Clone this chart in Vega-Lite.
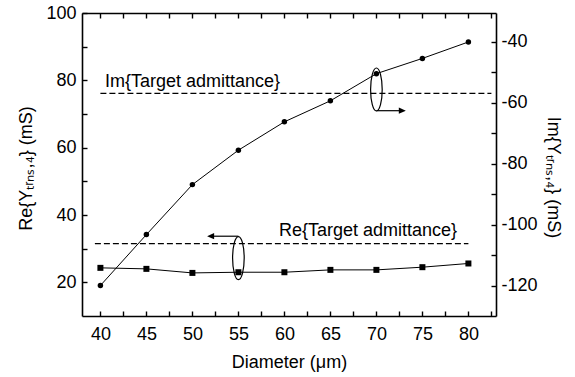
{
  "$schema": "https://vega.github.io/schema/vega-lite/v6.json",
  "width": 414,
  "height": 303,
  "autosize": {"type": "none"},
  "padding": {"left": 82, "top": 13, "right": 79, "bottom": 61},
  "background": "white",
  "config": {
    "view": {"stroke": null},
    "font": "Liberation Sans",
    "axis": {
      "grid": false,
      "domainColor": "black",
      "domainWidth": 1.6,
      "tickColor": "black",
      "tickWidth": 1.4,
      "tickSize": -5,
      "labelColor": "black",
      "labelFont": "Liberation Sans",
      "labelFontSize": 18,
      "labelOverlap": false,
      "labelFlush": false,
      "titleColor": "black",
      "titleFont": "Liberation Sans",
      "titleFontSize": 18,
      "titleFontWeight": "normal"
    }
  },
  "datasets": {
    "series": [
      {"d": 40, "re": 24.3, "im": -120.0},
      {"d": 45, "re": 24.0, "im": -103.3},
      {"d": 50, "re": 22.8, "im": -86.9},
      {"d": 55, "re": 23.0, "im": -75.6},
      {"d": 60, "re": 23.0, "im": -66.3},
      {"d": 65, "re": 23.7, "im": -59.4},
      {"d": 70, "re": 23.7, "im": -50.5},
      {"d": 75, "re": 24.5, "im": -45.5},
      {"d": 80, "re": 25.6, "im": -40.1}
    ]
  },
  "layer": [
    {
      "data": {"name": "series"},
      "mark": {"type": "line", "color": "black", "strokeWidth": 1},
      "encoding": {
        "x": {
          "field": "d",
          "type": "quantitative",
          "scale": {"domain": [38, 83], "nice": false, "zero": false},
          "axis": {
            "orient": "bottom",
            "values": [40, 42.5, 45, 47.5, 50, 52.5, 55, 57.5, 60, 62.5, 65, 67.5, 70, 72.5, 75, 77.5, 80, 82.5],
            "encode": {"ticks": {"update": {"y2": [{"test": "datum.value % 5 === 0", "value": -5}, {"value": -3}]}}},
            "labelExpr": "datum.value % 5 === 0 ? datum.label : ''",
            "labelBaseline": "alphabetic",
            "labelPadding": 28,
            "title": "Diameter (μm)",
            "titleBaseline": "alphabetic",
            "titleAlign": "center",
            "titleX": 207,
            "titleY": 51
          }
        },
        "y": {
          "field": "re",
          "type": "quantitative",
          "scale": {"domain": [10, 100], "nice": false, "zero": false},
          "axis": {
            "orient": "left",
            "values": [20, 30, 40, 50, 60, 70, 80, 90, 100],
            "encode": {"ticks": {"update": {"x2": [{"test": "datum.value % 20 === 0", "value": 5}, {"value": 3}]}}},
            "labelExpr": "datum.value % 20 === 0 ? datum.label : ''",
            "labelPadding": 11,
            "title": "Re{Yₜᵣₙₛ,₄} (mS)",
            "titleAngle": -90,
            "titleAlign": "center",
            "titleBaseline": "alphabetic",
            "titleX": -51,
            "titleY": 155
          }
        }
      }
    },
    {
      "data": {"name": "series"},
      "mark": {"type": "line", "color": "black", "strokeWidth": 1},
      "encoding": {
        "x": {
          "field": "d",
          "type": "quantitative",
          "axis": {
            "orient": "top",
            "values": [40, 42.5, 45, 47.5, 50, 52.5, 55, 57.5, 60, 62.5, 65, 67.5, 70, 72.5, 75, 77.5, 80, 82.5],
            "encode": {"ticks": {"update": {"y2": [{"test": "datum.value % 5 === 0", "value": 5}, {"value": 3}]}}},
            "labels": false,
            "title": null
          }
        },
        "y": {
          "field": "im",
          "type": "quantitative",
          "scale": {"domain": [-130, -30.6], "nice": false, "zero": false},
          "axis": {
            "orient": "right",
            "values": [-40, -50, -60, -70, -80, -90, -100, -110, -120],
            "encode": {"ticks": {"update": {"x2": [{"test": "datum.value % 20 === 0", "value": -5}, {"value": -3}]}}},
            "labelExpr": "datum.value % 20 === 0 ? '' + datum.value : ''",
            "labelPadding": 10,
            "title": "Im{Yₜᵣₙₛ,₄} (mS)",
            "titleAngle": 90,
            "titleAlign": "center",
            "titleBaseline": "alphabetic",
            "titleX": 51,
            "titleY": 164
          }
        }
      }
    },
    {
      "data": {"name": "series"},
      "mark": {"type": "point", "shape": "square", "filled": true, "color": "black", "size": 36, "opacity": 1},
      "encoding": {
        "x": {"field": "d", "type": "quantitative", "axis": null},
        "y": {"field": "re", "type": "quantitative", "axis": null, "scale": {"domain": [10, 100], "nice": false, "zero": false}}
      }
    },
    {
      "data": {"name": "series"},
      "mark": {"type": "point", "shape": "circle", "filled": true, "color": "black", "size": 30, "opacity": 1},
      "encoding": {
        "x": {"field": "d", "type": "quantitative", "axis": null},
        "y": {"field": "im", "type": "quantitative", "axis": null, "scale": {"domain": [-130, -30.6], "nice": false, "zero": false}}
      }
    },
    {
      "data": {"values": [{"from": 39.4, "to": 80, "target": 31.5}]},
      "mark": {"type": "rule", "color": "black", "strokeWidth": 1.2, "strokeDash": [6, 3]},
      "encoding": {
        "x": {"field": "from", "type": "quantitative", "axis": null},
        "x2": {"field": "to"},
        "y": {"field": "target", "type": "quantitative", "axis": null, "scale": {"domain": [10, 100], "nice": false, "zero": false}}
      }
    },
    {
      "data": {"values": [{"from": 40, "to": 82.5, "target": -56.95}]},
      "mark": {"type": "rule", "color": "black", "strokeWidth": 1.2, "strokeDash": [6, 3]},
      "encoding": {
        "x": {"field": "from", "type": "quantitative", "axis": null},
        "x2": {"field": "to"},
        "y": {"field": "target", "type": "quantitative", "axis": null, "scale": {"domain": [-130, -30.6], "nice": false, "zero": false}}
      }
    },
    {
      "data": {"values": [{"d": 59.4, "v": 33.8, "label": "Re{Target admittance}"}]},
      "mark": {"type": "text", "align": "left", "baseline": "alphabetic", "fontSize": 18, "font": "Liberation Sans", "color": "black"},
      "encoding": {
        "x": {"field": "d", "type": "quantitative", "axis": null},
        "y": {"field": "v", "type": "quantitative", "axis": null, "scale": {"domain": [10, 100], "nice": false, "zero": false}},
        "text": {"field": "label"}
      }
    },
    {
      "data": {"values": [{"d": 40.5, "v": -55.0, "label": "Im{Target admittance}"}]},
      "mark": {"type": "text", "align": "left", "baseline": "alphabetic", "fontSize": 18, "font": "Liberation Sans", "color": "black"},
      "encoding": {
        "x": {"field": "d", "type": "quantitative", "axis": null},
        "y": {"field": "v", "type": "quantitative", "axis": null, "scale": {"domain": [-130, -30.6], "nice": false, "zero": false}},
        "text": {"field": "label"}
      }
    },
    {
      "data": {"values": [{"d": 55, "v": 27.2}]},
      "mark": {"type": "point", "shape": "M0,-1A0.27,1 0 1,1 0,1A0.27,1 0 1,1 0,-1Z", "size": 1849, "filled": false, "stroke": "black", "strokeWidth": 1.2, "opacity": 1},
      "encoding": {
        "x": {"field": "d", "type": "quantitative", "axis": null},
        "y": {"field": "v", "type": "quantitative", "axis": null, "scale": {"domain": [10, 100], "nice": false, "zero": false}}
      }
    },
    {
      "data": {"values": [{"d": 70, "v": -55.7}]},
      "mark": {"type": "point", "shape": "M0,-1A0.27,1 0 1,1 0,1A0.27,1 0 1,1 0,-1Z", "size": 1849, "filled": false, "stroke": "black", "strokeWidth": 1.2, "opacity": 1},
      "encoding": {
        "x": {"field": "d", "type": "quantitative", "axis": null},
        "y": {"field": "v", "type": "quantitative", "axis": null, "scale": {"domain": [-130, -30.6], "nice": false, "zero": false}}
      }
    },
    {
      "data": {"values": [{"from": 52.3, "to": 55, "v": 33.7}]},
      "mark": {"type": "rule", "color": "black", "strokeWidth": 1.2},
      "encoding": {
        "x": {"field": "from", "type": "quantitative", "axis": null},
        "x2": {"field": "to"},
        "y": {"field": "v", "type": "quantitative", "axis": null, "scale": {"domain": [10, 100], "nice": false, "zero": false}}
      }
    },
    {
      "data": {"values": [{"d": 51.6, "v": 33.7}]},
      "mark": {"type": "point", "shape": "M0,0L1,-0.45L1,0.45Z", "size": 196, "filled": true, "color": "black", "opacity": 1},
      "encoding": {
        "x": {"field": "d", "type": "quantitative", "axis": null},
        "y": {"field": "v", "type": "quantitative", "axis": null, "scale": {"domain": [10, 100], "nice": false, "zero": false}}
      }
    },
    {
      "data": {"values": [{"from": 70, "to": 72.5, "v": -62.65}]},
      "mark": {"type": "rule", "color": "black", "strokeWidth": 1.2},
      "encoding": {
        "x": {"field": "from", "type": "quantitative", "axis": null},
        "x2": {"field": "to"},
        "y": {"field": "v", "type": "quantitative", "axis": null, "scale": {"domain": [-130, -30.6], "nice": false, "zero": false}}
      }
    },
    {
      "data": {"values": [{"d": 73.2, "v": -62.65}]},
      "mark": {"type": "point", "shape": "M0,0L-1,-0.45L-1,0.45Z", "size": 196, "filled": true, "color": "black", "opacity": 1},
      "encoding": {
        "x": {"field": "d", "type": "quantitative", "axis": null},
        "y": {"field": "v", "type": "quantitative", "axis": null, "scale": {"domain": [-130, -30.6], "nice": false, "zero": false}}
      }
    }
  ],
  "resolve": {
    "scale": {"y": "independent"},
    "axis": {"x": "independent", "y": "independent"}
  }
}
